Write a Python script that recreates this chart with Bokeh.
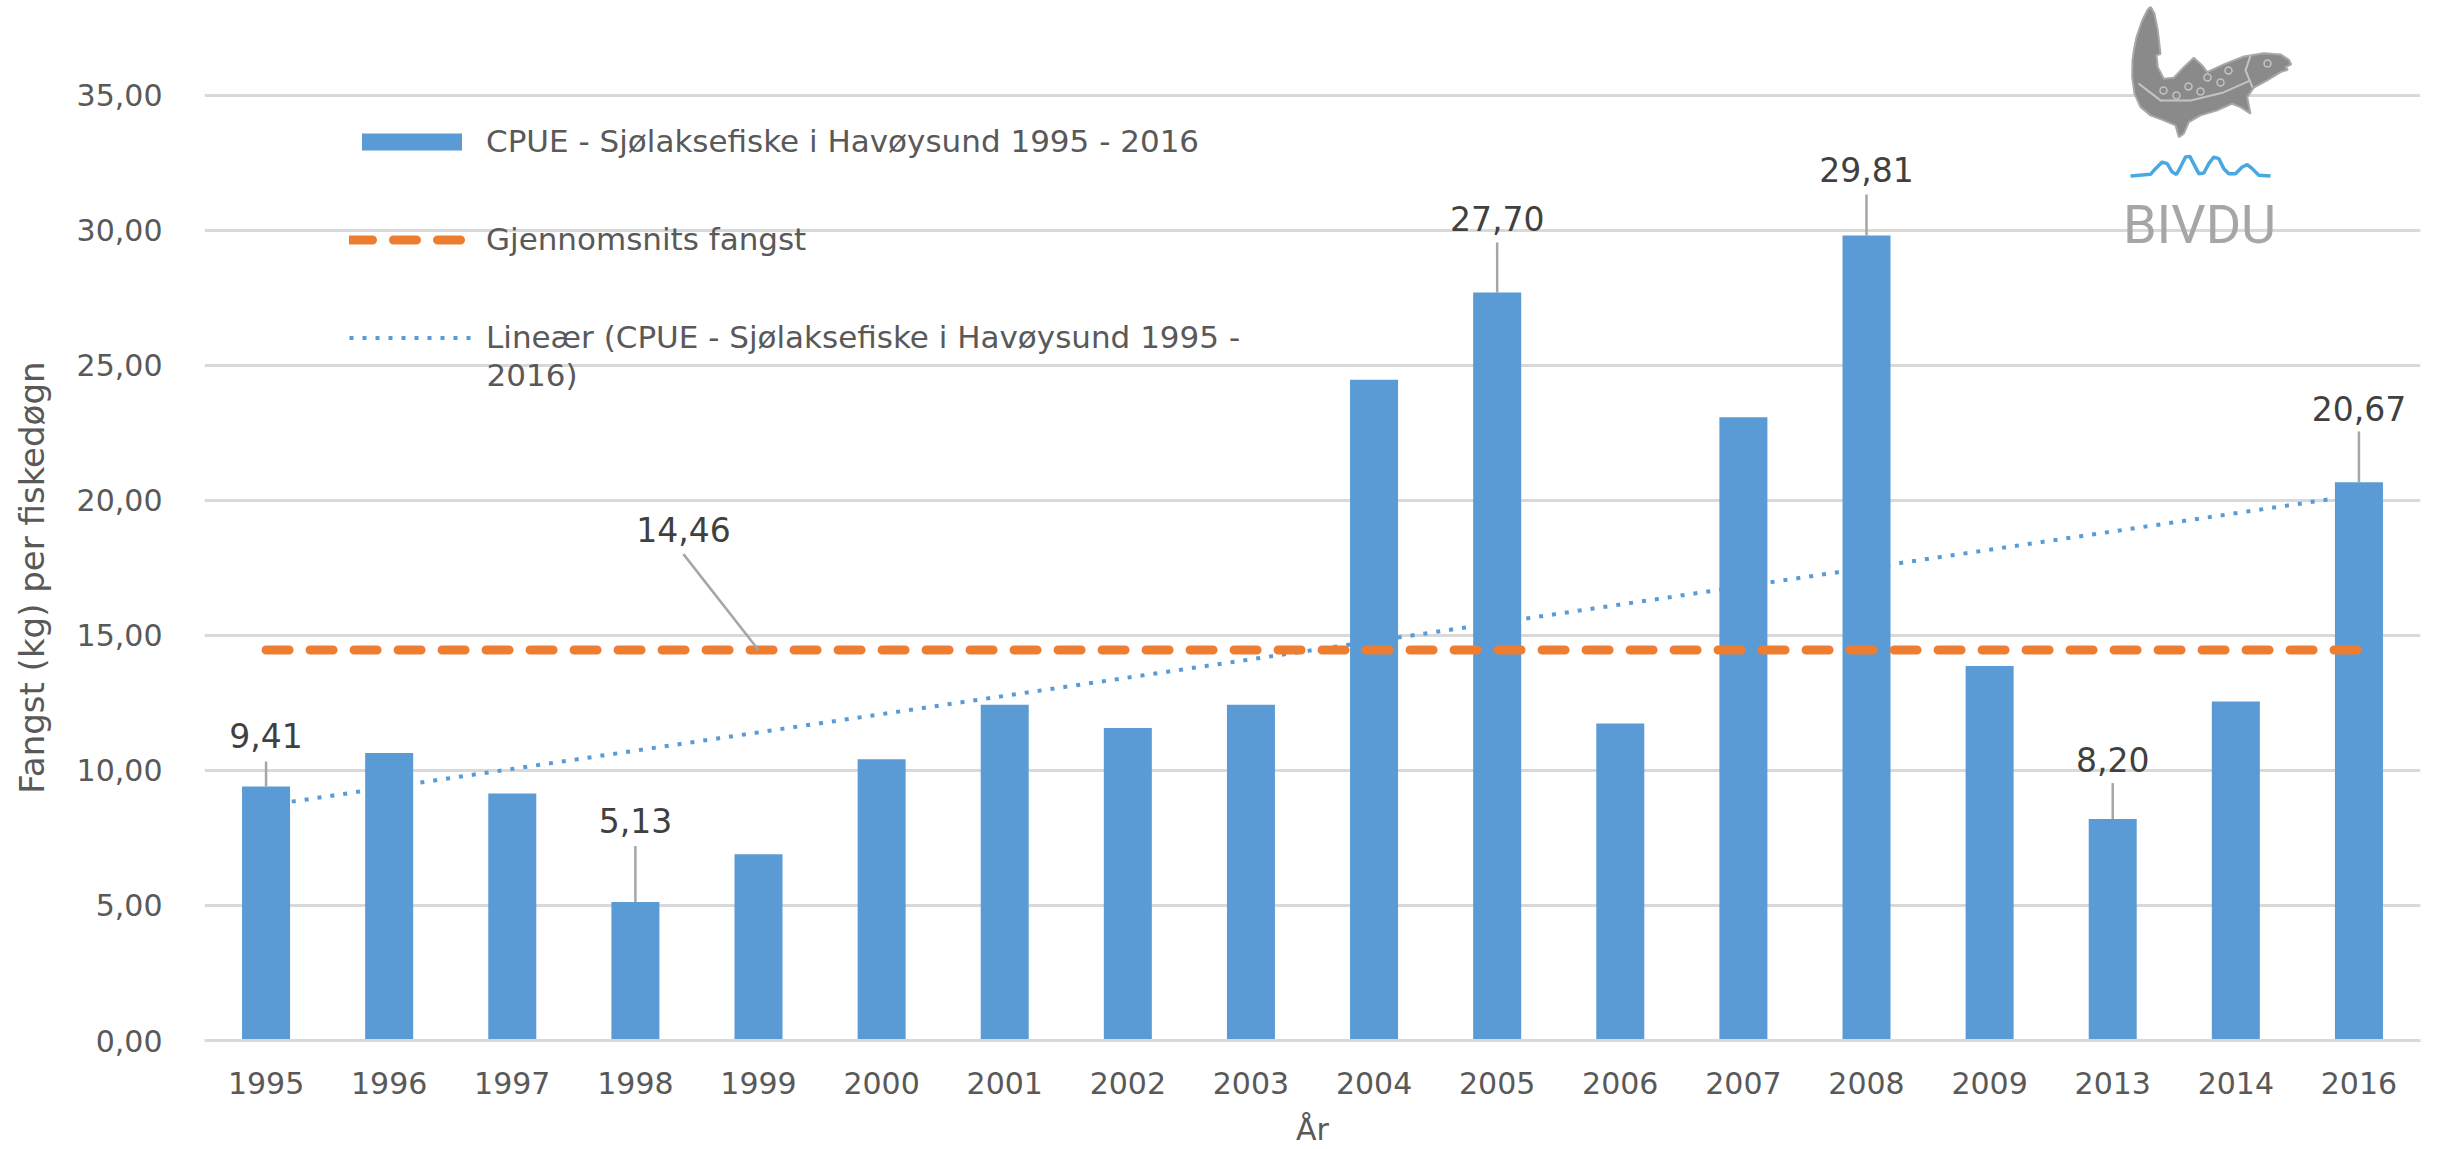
import numpy as np
from bokeh.plotting import figure
from bokeh.models import (ColumnDataSource, FactorRange, Range1d, FixedTicker, Legend,
                          LegendItem, Label, PolyAnnotation)
from bokeh.core.properties import value
from bokeh.embed import file_html
from bokeh.resources import INLINE

# ---------------- data ----------------
years = ["1995", "1996", "1997", "1998", "1999", "2000", "2001", "2002", "2003",
         "2004", "2005", "2006", "2007", "2008", "2009", "2013", "2014", "2016"]
cpue = [9.41, 10.65, 9.15, 5.13, 6.90, 10.42, 12.43, 11.57, 12.43,
        24.47, 27.70, 11.74, 23.08, 29.81, 13.87, 8.20, 12.55, 20.67]
mean_value = 14.46
labelled_years = ["1995", "1998", "2005", "2008", "2013", "2016"]
y_ticks = [0, 5, 10, 15, 20, 25, 30, 35]

series_name = "CPUE - Sjølaksefiske i Havøysund 1995 - 2016"
mean_name = "Gjennomsnits fangst"
trend_name_1 = "Lineær (CPUE - Sjølaksefiske i Havøysund 1995 -"
trend_name_2 = "2016)"
x_title = "År"
y_title = "Fangst (kg) per fiskedøgn"

# ---------------- styles ----------------
BLUE = "#5B9BD5"
ORANGE = "#ED7D31"
GRID = "#D9D9D9"
TXT = "#595959"
LBL = "#404040"
LEADER = "#A6A6A6"
FONT = "DejaVu Sans"

PAGE_W, PAGE_H = 2440, 1149
FRAME_LEFT, FRAME_RIGHT = 204, 2420        # page px
FRAME_TOP, FRAME_BOTTOM = 6, 1041          # page px (frame extended up for the logo)
Y35_PX = 95                                # page px of the 35,00 gridline
PX_PER_UNIT = (FRAME_BOTTOM - Y35_PX) / 35.0
PX_PER_CAT = (FRAME_RIGHT - FRAME_LEFT) / len(years)
Y_TOP = (FRAME_BOTTOM - FRAME_TOP) / PX_PER_UNIT
# the y title is centred on the frame; pad its end so the visible words centre on 0..35
Y_TITLE_PAD = "\u00a0" * 10

# label placement (pixels above bar top): text centre lift, leader length
label_lift = [51, 81, 74, 66, 60, 74]
leader_len = [25, 56, 50, 41, 36, 51]

def fmt(v):
    return f"{v:.2f}".replace(".", ",")

p = figure(x_range=FactorRange(factors=years), y_range=Range1d(0, Y_TOP),
           width=PAGE_W, height=PAGE_H,
           output_backend="svg", toolbar_location=None,
           min_border_left=FRAME_LEFT, min_border_right=PAGE_W - FRAME_RIGHT,
           min_border_top=FRAME_TOP, min_border_bottom=PAGE_H - FRAME_BOTTOM)
p.outline_line_color = None
p.background_fill_color = "white"
p.border_fill_color = "white"

# grid
p.xgrid.grid_line_color = None
p.ygrid.ticker = FixedTicker(ticks=y_ticks)
p.ygrid.grid_line_color = GRID
p.ygrid.grid_line_width = 3

# y axis
p.yaxis.ticker = FixedTicker(ticks=y_ticks)
p.yaxis.major_label_overrides = {t: fmt(t) for t in y_ticks}
p.yaxis.axis_line_color = None
p.yaxis.major_tick_line_color = None
p.yaxis.minor_tick_line_color = None
p.yaxis.major_label_standoff = 36
p.yaxis.major_label_text_font = FONT
p.yaxis.major_label_text_font_size = "30px"
p.yaxis.major_label_text_color = TXT
p.yaxis.axis_label = y_title + Y_TITLE_PAD
p.yaxis.axis_label_text_font = FONT
p.yaxis.axis_label_text_font_size = "34px"
p.yaxis.axis_label_text_font_style = "normal"
p.yaxis.axis_label_text_color = TXT
p.yaxis.axis_label_standoff = 22

# x axis
p.xaxis.axis_line_color = GRID
p.xaxis.axis_line_width = 3
p.xaxis.major_tick_line_color = None
p.xaxis.minor_tick_line_color = None
p.xaxis.major_label_standoff = 25
p.xaxis.major_label_text_font = FONT
p.xaxis.major_label_text_font_size = "30px"
p.xaxis.major_label_text_color = TXT
p.xaxis.axis_label = x_title
p.xaxis.axis_label_text_font = FONT
p.xaxis.axis_label_text_font_size = "30px"
p.xaxis.axis_label_text_font_style = "normal"
p.xaxis.axis_label_text_color = TXT
p.xaxis.axis_label_standoff = 15

# ---------------- marks ----------------
src = ColumnDataSource(dict(year=years, cpue=cpue))

# linear trend (behind bars)
idx = np.arange(len(cpue))
slope, intercept = np.polyfit(idx, cpue, 1)
trend_r = p.line(x=[years[0], years[-1]],
                 y=[intercept, intercept + slope * idx[-1]],
                 line_color=BLUE, line_width=4, line_dash="4 9")

bars = p.vbar(x="year", top="cpue", width=0.39, source=src,
              fill_color=BLUE, line_color=None)

mean_r = p.line(x=[years[0], years[-1]], y=[mean_value, mean_value],
                line_color=ORANGE, line_width=9, line_dash="23 21", line_cap="round")

# data labels with leader lines
lab_vals = [cpue[years.index(y)] for y in labelled_years]
lab_src = ColumnDataSource(dict(
    x=labelled_years, y=lab_vals,
    y1=[v + l / PX_PER_UNIT for v, l in zip(lab_vals, leader_len)],
    off=[-l for l in label_lift],
    text=[fmt(v) for v in lab_vals]))
p.segment(x0="x", y0="y", x1="x", y1="y1", source=lab_src,
          line_color=LEADER, line_width=2.5)
p.text(x="x", y="y", text="text", y_offset="off", source=lab_src,
       text_align="center", text_baseline="middle",
       text_font=value(FONT), text_font_size="33px", text_color=LBL)

# mean label
mean_year_pos = years.index("1999") + 0.5
mean_lab_x = mean_year_pos - 0.61
p.segment(x0=[mean_year_pos], y0=[mean_value], x1=[mean_lab_x],
          y1=[mean_value + 96 / PX_PER_UNIT], line_color=LEADER, line_width=2.5)
p.text(x=[mean_lab_x], y=[mean_value + 121 / PX_PER_UNIT], text=[fmt(mean_value)],
       text_align="center", text_baseline="middle",
       text_font=value(FONT), text_font_size="33px", text_color=LBL)

# ---------------- legend ----------------
legend = Legend(items=[LegendItem(label=series_name, renderers=[bars]),
                       LegendItem(label=mean_name, renderers=[mean_r]),
                       LegendItem(label=trend_name_1, renderers=[trend_r])],
                location=(145, 685), orientation="vertical",
                glyph_width=125, glyph_height=21, label_standoff=12,
                spacing=62, padding=0, margin=0,
                border_line_alpha=0, background_fill_alpha=0,
                label_text_font=FONT, label_text_font_size="31px",
                label_text_color=TXT)
p.add_layout(legend)
p.add_layout(Label(x=282, y=666, x_units="screen", y_units="screen", text=trend_name_2,
                   text_align="left", text_baseline="middle",
                   text_font=FONT, text_font_size="31px", text_color=TXT))

# ---------------- logo (decoration, page-pixel outline mapped to plot coords) ----------------
def to_x(px_list):
    return [(x - FRAME_LEFT) / PX_PER_CAT for x in px_list]

def to_y(py_list):
    return [(FRAME_BOTTOM - y) / PX_PER_UNIT for y in py_list]

fish_x = [2150.0, 2154.0, 2157.3, 2160.0, 2156.0, 2157.3, 2163.3, 2173.3, 2183.3, 2193.3,
          2201.7, 2206.7, 2223.3, 2243.3, 2263.3, 2280.0, 2288.3, 2290.7, 2285.0, 2287.3,
          2280.0, 2266.7, 2253.3, 2246.7, 2250.0, 2240.0, 2231.7, 2216.7, 2200.0, 2188.3,
          2183.3, 2178.3, 2175.0, 2163.3, 2150.0, 2140.0, 2134.0, 2131.7, 2132.0, 2133.3,
          2136.0, 2141.7, 2146.7]
fish_y = [6.0, 13.3, 30.0, 53.3, 55.0, 66.7, 78.3, 77.3, 66.7, 57.3,
          65.0, 71.7, 64.0, 56.0, 52.7, 54.0, 59.3, 64.0, 66.7, 69.3,
          71.7, 80.0, 87.3, 96.7, 113.3, 106.7, 103.3, 110.0, 115.0, 121.7,
          133.3, 136.7, 125.0, 120.0, 115.0, 106.7, 93.3, 76.7, 60.0, 50.0,
          36.7, 20.0, 10.0]
p.add_layout(PolyAnnotation(xs=to_x(fish_x), ys=to_y(fish_y),
                            fill_color="#8A8A8A", fill_alpha=1,
                            line_color="#A8A8A8", line_alpha=1, line_width=2))

# fish details: lateral line, gill arc
lat_x = [2138, 2160, 2190, 2223, 2250]
lat_y = [83, 100, 100, 92, 80]
gill_x = [2250, 2245, 2252]
gill_y = [55, 70, 87]
for dx, dy in ((lat_x, lat_y), (gill_x, gill_y)):
    ax, ay = to_x(dx), to_y(dy)
    p.add_layout(PolyAnnotation(xs=ax + ax[::-1], ys=ay + ay[::-1], fill_alpha=0,
                                line_color="#C4C4C4", line_alpha=1, line_width=2))
spot_x = [2163, 2176, 2188, 2207, 2220, 2200, 2228, 2267]
spot_y = [90, 95, 86, 77, 82, 91, 70, 63]
p.scatter(x=to_x(spot_x), y=to_y(spot_y), marker="circle", size=7,
          fill_color="#8A8A8A", line_color="#C4C4C4", line_width=1.5, level="overlay")

wave_x = [2130, 2150, 2155, 2161.7, 2166.7, 2171.7, 2176, 2180, 2185, 2189.3, 2194,
          2198.3, 2203.3, 2208.3, 2213.3, 2218.3, 2223.3, 2228.3, 2235, 2241.7,
          2246.7, 2251.7, 2258.3, 2270]
wave_y = [175.7, 174, 168.3, 161.7, 163.3, 171.7, 174, 166.7, 156.7, 156, 165, 173.3,
          172.7, 163.3, 156.7, 158.3, 168.3, 173.3, 173.3, 166.7, 164.3, 168.3, 175,
          175.7]
wx = to_x(wave_x)
wy = to_y(wave_y)
p.add_layout(PolyAnnotation(xs=wx + wx[::-1], ys=wy + wy[::-1],
                            fill_alpha=0, line_color="#4AA8E0", line_alpha=1, line_width=3.5))

p.add_layout(Label(x=to_x([2199])[0], y=to_y([224])[0],
                   text="BIVDU", text_align="center", text_baseline="alphabetic",
                   text_font="Roboto", text_font_size="54px", text_color="#A6A6A6"))

open("out.html", "w").write(file_html(p, INLINE))
